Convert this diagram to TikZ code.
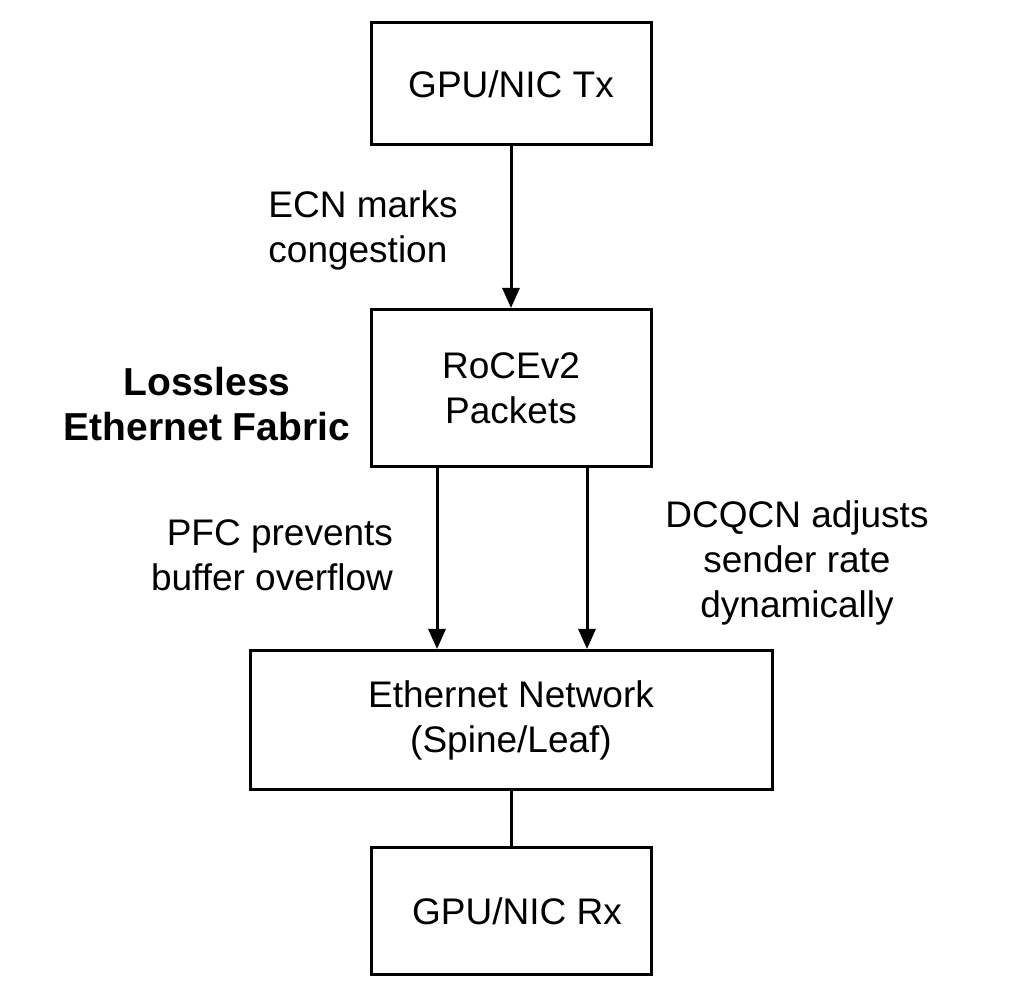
\documentclass[tikz,border=0pt]{standalone}
\usepackage{fontspec}
\setmainfont{Liberation Sans}
\usetikzlibrary{arrows.meta}

\begin{document}
\begin{tikzpicture}[x=0.5pt, y=-0.5pt, font=\fontsize{18.5}{22.5}\selectfont, line width=1.5pt,
    blockbox/.style={draw=black, line width=1.5pt, inner sep=0pt, align=center},
    flowarrow/.style={-{Triangle[length=10pt,width=8.5pt]}},
    notetext/.style={inner sep=0pt}]
  \useasboundingbox (0,0) rectangle (1013,999);

  % blocks
  \node[blockbox, minimum width=140pt, minimum height=61pt] (tx) at (511,84) {GPU/NIC Tx};
  \node[blockbox, minimum width=140pt, minimum height=78.5pt] (roce) at (511,388) {RoCEv2\\Packets};
  \node[blockbox, minimum width=261pt, minimum height=69.5pt] (eth) at (511,720) {Ethernet Network\\(Spine/Leaf)};
  \node[blockbox, minimum width=140pt, minimum height=63.5pt] (rx) at (511,911) {\hspace{6pt}GPU/NIC Rx};

  % connectors
  \draw[flowarrow] (tx.south) -- (roce.north);
  \draw[flowarrow] ([xshift=-37pt]roce.south) -- ([xshift=-37pt]eth.north);
  \draw[flowarrow] ([xshift=38pt]roce.south) -- ([xshift=38pt]eth.north);
  \draw (eth.south) -- (rx.north);

  % labels
  \node[notetext, align=left] (ecn) at (363,230) {ECN marks\\congestion};
  \node[notetext, align=center, font=\fontsize{19.5}{22.5}\selectfont\bfseries] (fabric) at (207,404) {Lossless\\Ethernet Fabric};
  \node[notetext, align=right] (pfc) at (272,555) {PFC prevents\\buffer overflow};
  \node[notetext, align=center] (dcqcn) at (797,563) {DCQCN adjusts\\sender rate\\dynamically};
\end{tikzpicture}
\end{document}
